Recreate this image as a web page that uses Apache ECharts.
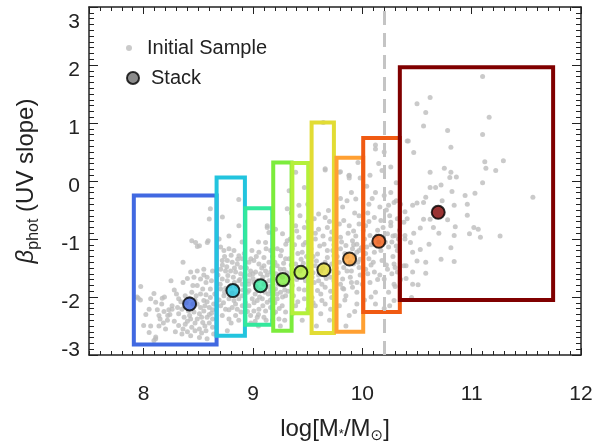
<!DOCTYPE html>
<html>
<head>
<meta charset="utf-8">
<script src="https://cdn.jsdelivr.net/npm/echarts@6/dist/echarts.min.js"></script>
<style>
  body { margin: 0; background: #fff; }
  #chart { width: 606px; height: 443px; }
</style>
</head>
<body>
<div id="chart"></div>
<script>
// stack bins: box edges (log mass) and beta range
var boxX0 = [7.91, 8.667, 8.93, 9.185, 9.36, 9.536, 9.764, 10.008, 10.343];
var boxX1 = [8.667, 8.926, 9.176, 9.353, 9.505, 9.74, 10.008, 10.343, 11.745];
var boxY0 = [-2.82, -2.67, -2.48, -2.58, -2.28, -2.62, -2.60, -2.26, -2.05];
var boxY1 = [-0.25, 0.06, -0.47, 0.32, 0.31, 1.01, 0.40, 0.74, 1.96];
var binColors = ['#4169e1', '#22c4de', '#33e89c', '#7cec3c', '#b4f03a', '#e2dc34', '#ffa032', '#f05a12', '#800000'];

// stacked measurements
var stackX = [8.42, 8.816, 9.069, 9.273, 9.438, 9.648, 9.883, 10.151, 10.694];
var stackY = [-2.12, -1.89, -1.805, -1.70, -1.575, -1.53, -1.345, -1.04, -0.54];

// mass completeness line
var dashX = [10.2];

// initial sample
var sampleLow = [
  [8.475,-1.06],[8.582,-1.06],[8.491,-1.13],[7.973,-1.82],[7.95,-2.02],[7.97,-2.05],[8.064,-2.03],[8.094,-1.94],
  [8.11,-2.09],[8.17,-2.02],[8.165,-2.12],[8.125,-2.22],[8.186,-2.25],[8.23,-2.22],[8.26,-2.21],[8.217,-2.40],
  [8.14,-2.50],[8.064,-2.50],[8.05,-2.61],[8.11,-2.69],[8.094,-2.75],[8.43,-1.57],[8.49,-1.55],[8.55,-1.52],
  [8.63,-1.55],[8.46,-1.66],[8.52,-1.69],[8.58,-1.66],[8.49,-1.80],[8.54,-1.86],[8.57,-1.75],[8.61,-1.86],
  [8.44,-1.92],[8.38,-1.98],[8.32,-2.03],[8.26,-2.15],[8.31,-2.18],[8.35,-2.21],[8.41,-2.24],[8.46,-2.26],
  [8.51,-2.29],[8.55,-2.24],[8.60,-2.18],[8.64,-2.12],[8.32,-2.29],[8.37,-2.35],[8.43,-2.38],[8.49,-2.38],
  [8.54,-2.44],[8.58,-2.35],[8.63,-2.38],[8.32,-2.49],[8.38,-2.47],[8.44,-2.52],[8.51,-2.55],[8.57,-2.58],
  [8.63,-2.52],[8.35,-2.64],[8.43,-2.67],[8.51,-2.70],[8.58,-2.72],[8.64,-2.64],[8.55,-2.06],[8.61,-2.01],
  [8.49,-2.12],[8.19,-2.0],[7.94,-2.0],[8.05,-2.21],[8.14,-2.32],[8.0,-2.49],[8.11,-2.72],[8.22,-2.32],
  [8.44,-1.03],[8.51,-1.115],[8.61,-0.48],[8.60,-0.655],[8.59,-1.03],[8.28,-1.88],[8.36,-1.75],[8.40,-1.68],
  [8.52,-1.95],[8.58,-2.08],[8.47,-2.05],[8.39,-2.10],[8.62,-2.28],[8.56,-2.50],[8.47,-2.58],[8.40,-2.60],
  [8.28,-2.42],[8.20,-2.55],[8.15,-2.38],[8.02,-2.30],[8.36,-1.40],[8.25,-1.72],
  [8.30,-1.95],[8.34,-2.08],[8.42,-2.02],[8.45,-2.12],[8.48,-1.98],[8.52,-2.18],[8.57,-1.96],[8.60,-2.30],
  [8.62,-1.72],[8.65,-1.95],[8.40,-2.42],[8.47,-2.45],[8.53,-2.62],[8.45,-1.80],[8.55,-1.62],[8.24,-2.30],
  [8.29,-2.60],[8.18,-2.45],[8.53,-2.35],[8.60,-2.45],[8.56,-2.15],[8.63,-2.22],[8.42,-2.32],[8.36,-2.55]
];
var sampleMidLow = [
  [8.871,-0.77],[8.704,-1.14],[8.734,-1.20],[8.780,-1.17],[8.826,-1.20],[8.871,-1.29],[8.719,-1.37],[8.765,-1.37],
  [8.810,-1.40],[8.856,-1.43],[8.704,-1.52],[8.749,-1.55],[8.795,-1.55],[8.841,-1.57],[8.887,-1.60],[8.719,-1.69],
  [8.765,-1.72],[8.871,-1.72],[8.902,-1.78],[8.704,-1.86],[8.734,-1.98],[8.780,-2.03],[8.826,-2.06],[8.871,-2.03],
  [8.902,-1.98],[8.704,-2.15],[8.749,-2.21],[8.810,-2.18],[8.856,-2.21],[8.902,-2.15],[8.719,-2.32],[8.780,-2.38],
  [8.841,-2.32],[8.765,-2.58],[8.887,-1.49],[8.902,-1.34],[8.963,-1.40],[9.008,-1.37],[9.054,-1.43],[9.100,-1.46],
  [9.146,-1.40],[8.978,-1.55],[9.024,-1.57],[9.069,-1.60],[9.115,-1.55],[9.161,-1.57],[8.963,-1.72],[9.008,-1.75],
  [9.146,-1.72],[8.963,-1.89],[9.161,-1.89],[8.993,-2.03],[9.039,-2.06],[9.085,-2.03],[9.130,-2.09],[8.963,-2.15],
  [9.008,-2.24],[9.054,-2.21],[9.115,-2.24],[9.161,-2.18],[8.978,-2.32],[9.039,-2.35],[9.100,-2.35],[9.130,-0.80],
  [9.146,-0.89],[9.115,-1.06],[9.054,-1.23],[9.161,-1.20],[9.206,-0.83],[9.222,-1.17],[9.252,-1.29],[9.298,-1.34],
  [9.222,-1.46],[9.283,-1.52],[9.206,-1.86],[9.252,-1.92],[9.298,-1.98],[9.222,-2.03],[9.267,-2.15],[9.206,-2.26],
  [9.298,-2.26],[9.237,-2.38],[9.313,-1.03],[9.313,-0.48],[8.87,-0.32],[9.13,-0.77],[9.27,-0.91],[9.40,-0.86],
  [9.30,-1.09],[9.12,-1.17],[8.98,-1.34],[8.75,-1.85],[8.83,-1.75],[8.92,-1.65],[8.95,-1.92],[9.03,-1.82],
  [9.10,-1.78],[9.18,-1.70],[9.24,-1.62],[9.28,-1.80],[9.00,-1.60],[8.86,-1.95],[8.80,-2.45],[8.93,-2.10],
  [9.06,-2.00],[9.14,-1.95],[9.20,-2.10],[9.27,-2.00],[8.98,-2.45],[9.05,-2.50],[9.18,-2.40],[9.25,-2.50],
  [8.72,-1.45],[8.92,-1.25],[9.05,-1.05],[8.90,-1.05],[8.78,-0.95],[8.72,-0.62],[8.69,-1.00],
  [8.68,-1.62],[8.70,-1.78],[8.74,-1.92],[8.77,-1.63],[8.79,-1.81],[8.82,-1.66],[8.85,-1.82],[8.88,-1.70],
  [8.91,-1.88],[8.69,-2.05],[8.73,-2.10],[8.78,-2.22],[8.84,-2.12],[8.89,-2.26],[8.76,-1.48],[8.83,-1.50],
  [8.86,-1.35],[8.80,-1.28],[8.94,-1.50],[8.96,-1.78],[8.97,-1.62],[9.00,-1.68],[9.02,-1.95],[9.04,-1.72],
  [9.07,-1.88],[9.09,-1.66],[9.11,-1.92],[9.13,-1.62],[9.15,-1.82],[9.17,-1.50],[9.19,-1.88],[9.21,-1.60],
  [9.23,-1.78],[9.25,-1.52],[9.27,-1.66],[9.29,-1.88],[9.01,-2.10],[9.09,-2.15],[9.16,-2.05],[9.24,-2.20],
  [9.03,-1.30],[9.10,-1.32],[9.20,-1.40],[9.26,-1.20],[9.05,-2.30],[9.19,-2.28],[9.29,-2.40],[8.99,-1.20],
  [9.08,-1.50],[9.22,-1.95],[8.74,-1.30],[8.81,-1.93],[8.95,-2.25],[9.12,-2.40],[9.02,-2.42],[8.87,-2.40],
  [9.18,-1.30],[9.28,-1.42]
];
var sampleMidHigh = [
  [9.39,0.15],[9.66,0.21],[9.79,0.15],[9.86,-0.34],[9.94,-0.31],[9.33,-0.17],[9.47,-0.11],[9.42,-0.42],
  [9.50,-0.40],[9.69,-0.51],[9.60,-0.57],[9.66,-0.63],[9.56,-0.65],[9.43,-0.60],[9.39,-0.77],[9.47,-0.80],
  [9.53,-0.88],[9.60,-0.83],[9.68,-0.80],[9.72,-0.88],[9.79,-0.74],[9.83,-0.68],[9.88,-0.77],[9.92,-0.86],
  [9.97,-0.74],[9.34,-1.00],[9.42,-0.97],[9.48,-1.06],[9.57,-1.00],[9.65,-1.09],[9.71,-1.00],[9.80,-0.97],
  [9.85,-1.11],[9.91,-1.03],[9.95,-1.09],[9.36,-1.17],[9.45,-1.23],[9.53,-1.17],[9.59,-1.26],[9.68,-1.20],
  [9.74,-1.29],[9.80,-1.17],[9.91,-1.17],[9.97,-1.20],[9.33,-1.34],[9.39,-1.43],[9.53,-1.37],[9.57,-1.46],
  [9.72,-1.43],[9.79,-1.40],[9.83,-1.49],[9.92,-1.43],[9.97,-1.49],[9.34,-1.66],[9.48,-1.72],[9.54,-1.66],
  [9.60,-1.72],[9.71,-1.66],[9.76,-1.60],[9.82,-1.69],[9.89,-1.66],[9.95,-1.75],[9.36,-1.80],[9.42,-1.86],
  [9.51,-1.83],[9.59,-1.89],[9.66,-1.83],[9.74,-1.89],[9.83,-1.86],[9.91,-1.83],[9.37,-1.98],[9.47,-2.03],
  [9.54,-2.01],[9.63,-2.06],[9.72,-2.01],[9.85,-1.98],[9.95,-1.92],[9.39,-2.15],[9.50,-2.21],[9.57,-2.15],
  [9.71,-2.21],[9.79,-2.15],[9.36,-2.29],[9.62,-2.29],[9.95,-2.12],[9.88,-2.32],[9.643,1.01],[9.66,0.19],
  [9.80,0.16],[9.88,0.10],[9.88,0.05],[9.96,0.32],[9.45,-1.50],[9.50,-1.60],[9.62,-1.55],[9.66,-1.40],
  [9.76,-1.50],[9.86,-1.30],[9.90,-1.55],[9.98,-1.62],[9.55,-1.30],[9.44,-1.35],[9.38,-1.55],[9.62,-1.95],
  [9.80,-1.78],[9.70,-2.40],[9.45,-2.40],[9.58,-2.50],[9.85,-2.50],[9.98,-1.35],[9.74,-1.10],[9.64,-0.95],
  [9.35,-0.55],[9.52,-0.25],[9.82,-0.45],[9.93,-0.55],
  [9.31,-1.58],[9.33,-1.75],[9.35,-1.45],[9.37,-1.62],[9.40,-1.70],[9.41,-1.25],[9.43,-1.55],[9.46,-1.42],
  [9.47,-1.88],[9.49,-1.30],[9.51,-1.48],[9.52,-1.95],[9.55,-1.58],[9.56,-1.75],[9.58,-1.38],[9.60,-1.62],
  [9.61,-1.12],[9.63,-1.78],[9.64,-1.50],[9.67,-1.68],[9.68,-1.32],[9.70,-1.55],[9.71,-1.90],[9.73,-1.20],
  [9.74,-1.72],[9.32,-1.90],[9.41,-2.08],[9.55,-2.10],[9.66,-2.12],[9.46,-1.10],[9.57,-0.90],[9.70,-0.70],
  [9.50,-0.70],[9.38,-1.10]
];
var sampleHigh = [
  [10.41,0.69],[10.12,0.62],[10.12,0.55],[10.20,0.50],[10.18,0.18],[10.26,0.24],[10.04,-0.09],[10.31,-0.03],
  [9.877,0.09],[10.12,-0.20],[10.20,-0.25],[10.06,-0.40],[10.29,-0.37],[10.11,-0.63],[10.03,-0.77],[10.17,-0.68],
  [10.26,-0.77],[10.32,-0.65],[10.07,-0.94],[10.23,-0.91],[10.30,-0.94],[10.04,-1.14],[10.11,-1.23],[10.24,-1.14],
  [10.32,-1.20],[10.06,-1.34],[10.18,-1.37],[10.29,-1.43],[10.03,-1.52],[10.11,-1.57],[10.23,-1.52],[10.32,-1.57],
  [10.07,-1.75],[10.20,-1.69],[10.29,-1.78],[10.12,-1.92],[10.24,-1.92],[10.12,-2.12],[10.29,-2.06],[10.38,-1.46],
  [10.41,-0.65],[9.95,-1.23],[10.02,-1.00],[10.15,-1.05],[10.27,-1.05],[10.08,-1.45],[10.16,-1.62],[10.28,-1.30],
  [10.05,-0.55],[10.22,-0.50],[10.34,-0.85],[10.14,-0.85],[10.02,-2.05],[10.20,-2.20],[10.35,-1.70],
  [9.77,-1.30],[9.78,-1.58],[9.81,-1.05],[9.82,-1.85],[9.84,-1.25],[9.86,-1.55],[9.87,-0.90],[9.89,-1.40],
  [9.90,-1.75],[9.92,-1.10],[9.93,-1.30],[9.94,-0.95],[9.96,-1.40],[9.97,-0.60],[9.99,-1.15],[10.00,-1.78],
  [10.01,-0.85],[10.03,-1.25],[10.05,-1.60],[10.06,-0.70],[10.08,-1.10],[10.09,-0.30],[10.10,-1.40],[10.13,-0.95],
  [10.14,-1.70],[10.16,-0.45],[10.17,-1.20],[10.19,-0.80],[10.21,-1.05],[10.22,-1.45],[10.25,-0.60],[10.27,-1.60],
  [10.28,-0.95],[10.33,-1.00],[10.35,-0.40],[9.80,-0.30],[9.90,-0.20],[9.98,0.05],[10.07,0.10],[10.15,0.30],
  [9.84,-2.05],[9.93,-2.25],[10.08,-2.00],[10.25,-2.15],
  [11.10,1.80],[10.62,1.44],[10.50,1.33],[10.58,1.18],[10.56,0.95],[11.16,1.10],[10.78,0.87],[11.10,0.80],
  [10.42,0.69],[10.81,0.58],[10.47,0.49],[11.12,0.33],[11.29,0.35],[11.13,0.22],[11.22,0.18],[10.75,0.22],
  [10.62,0.15],[10.81,0.15],[10.80,0.06],[10.86,0.07],[11.10,-0.03],[10.72,-0.07],[10.62,-0.11],[10.67,-0.11],
  [10.82,-0.18],[11.03,-0.21],[10.94,-0.25],[11.56,-0.28],[10.58,-0.28],[10.56,-0.37],[10.50,-0.38],[10.46,-0.42],
  [10.73,-0.34],[10.96,-0.40],[10.84,-0.42],[10.39,-0.53],[10.96,-0.59],[10.62,-0.66],[10.78,-0.67],[10.56,-0.66],
  [10.65,-0.80],[10.85,-0.79],[11.02,-0.80],[11.06,-0.83],[10.53,-0.81],[10.47,-0.90],[10.39,-0.94],[10.70,-0.90],
  [10.84,-0.94],[10.98,-0.91],[11.08,-0.97],[11.26,-0.95],[10.44,-1.06],[10.61,-1.09],[10.53,-1.18],[10.46,-1.23],
  [10.81,-1.15],[10.72,-1.35],[10.84,-1.39],[10.58,-1.40],[10.50,-1.38],[10.40,-1.46],[10.46,-1.57],[10.58,-1.59],
  [10.40,-1.68],[10.46,-1.78],[10.51,-1.79],[10.45,-2.01],[10.31,-1.12],[10.30,-1.49],[10.30,-1.82],[10.26,-0.20],
  [10.24,-0.42],[10.31,-0.34],[10.38,-0.71],[10.39,-1.00],[10.26,-0.71]
];

var FONT = 'Liberation Sans, Arial, DejaVu Sans, sans-serif';
var INK = '#222';

var chart = echarts.init(document.getElementById('chart'));

var series = [];

series.push({
  name: 'Initial Sample',
  type: 'scatter',
  symbol: 'circle',
  symbolSize: 5,
  itemStyle: { color: '#bdbdbd' },
  silent: true,
  z: 1,
  data: sampleLow.concat(sampleMidLow, sampleMidHigh, sampleHigh),
  markLine: {
    silent: true,
    symbol: 'none',
    label: { show: false },
    lineStyle: { color: '#c4c4c4', width: 3, type: [14, 8] },
    data: dashX.map(function (v) { return { xAxis: v }; })
  }
});

for (var i = 0; i < boxX0.length; i++) {
  series.push({
    name: 'bin' + i,
    type: 'line',
    symbol: 'none',
    silent: true,
    z: 2,
    lineStyle: { color: binColors[i], width: 4, join: 'miter', cap: 'square' },
    data: [
      [boxX0[i], boxY0[i]], [boxX1[i], boxY0[i]], [boxX1[i], boxY1[i]],
      [boxX0[i], boxY1[i]], [boxX0[i], boxY0[i]]
    ]
  });
}

series.push({
  name: 'Stack',
  type: 'scatter',
  symbol: 'circle',
  symbolSize: 13,
  z: 5,
  itemStyle: { color: '#6e6e6e', borderColor: '#000', borderWidth: 2 },
  data: stackX.map(function (x, k) {
    return { value: [x, stackY[k]], itemStyle: { color: binColors[k] } };
  })
});

var xMajor = {
  type: 'value', min: 7.5, max: 12,
  axisLine: { show: true, onZero: false, lineStyle: { color: INK, width: 1.5 } },
  axisTick: { show: true, inside: true, length: 7, lineStyle: { color: INK } },
  splitLine: { show: false }
};
var xMinor = {
  type: 'value', min: 7.5, max: 12, interval: 0.1,
  axisLine: { show: false, onZero: false },
  axisTick: { show: true, inside: true, length: 4, lineStyle: { color: INK } },
  axisLabel: { show: false },
  splitLine: { show: false }
};

chart.setOption({
  animation: false,
  grid: { left: 89, right: 25, top: 7, bottom: 88, containLabel: false, outerBoundsMode: 'none' },
  legend: [
    {
      data: [{ name: 'Initial Sample', icon: 'circle' }],
      left: 121, top: 33, itemWidth: 26, itemHeight: 6,
      selectedMode: false,
      textStyle: { fontFamily: FONT, fontSize: 20, color: INK }
    },
    {
      data: [{ name: 'Stack', icon: 'circle' }],
      left: 121, top: 63, itemWidth: 26, itemHeight: 12,
      selectedMode: false,
      textStyle: { fontFamily: FONT, fontSize: 20, color: INK }
    }
  ],
  xAxis: [
    Object.assign({}, xMajor, {
      position: 'bottom',
      axisLabel: { show: true, showMinLabel: false, margin: 29, fontFamily: FONT, fontSize: 21, color: INK },
      name: '{t|log[M}{s|*}{t|/M}{o|⊙}{t|]}',
      nameLocation: 'middle',
      nameGap: 59,
      nameTextStyle: {
        rich: {
          t: { fontFamily: FONT, fontSize: 24, color: INK, lineHeight: 30, verticalAlign: 'middle' },
          s: { fontFamily: FONT, fontSize: 13, color: INK, lineHeight: 30, verticalAlign: 'bottom', padding: [0, 0, 3, 0] },
          o: { fontFamily: 'DejaVu Sans, ' + FONT, fontSize: 15, color: INK, lineHeight: 30, verticalAlign: 'bottom' }
        }
      }
    }),
    Object.assign({}, xMajor, { position: 'top', axisLabel: { show: false } }),
    Object.assign({}, xMinor, { position: 'bottom' }),
    Object.assign({}, xMinor, { position: 'top' })
  ],
  yAxis: [
    {
      type: 'value', min: -3, max: 3, interval: 1, position: 'left',
      axisLine: { show: true, onZero: false, lineStyle: { color: INK, width: 1.5 } },
      axisTick: { show: true, inside: true, length: 9, lineStyle: { color: INK } },
      minorTick: { show: true, splitNumber: 10, length: 5, lineStyle: { color: INK } },
      splitLine: { show: false },
      axisLabel: {
        margin: 9,
        formatter: function (v) {
          if (v === 3) return '{t|' + v + '}';
          if (v === -3) return '{b|' + v + '}';
          return '{m|' + v + '}';
        },
        rich: {
          t: { fontFamily: FONT, fontSize: 21, color: INK, padding: [30, 0, 0, 0] },
          m: { fontFamily: FONT, fontSize: 21, color: INK, padding: [11, 0, 0, 0] },
          b: { fontFamily: FONT, fontSize: 21, color: INK, padding: [0, 0, 10, 0] }
        }
      },
      name: '{b|β}{s|phot}{t| (UV slope)}',
      nameLocation: 'middle',
      nameGap: 47,
      nameRotate: 90,
      nameTextStyle: {
        rich: {
          b: { fontFamily: FONT, fontStyle: 'italic', fontSize: 24, color: INK, lineHeight: 32, verticalAlign: 'middle' },
          s: { fontFamily: FONT, fontSize: 16, color: INK, lineHeight: 32, verticalAlign: 'bottom' },
          t: { fontFamily: FONT, fontSize: 24, color: INK, lineHeight: 32, verticalAlign: 'middle' }
        }
      }
    },
    {
      type: 'value', min: -3, max: 3, interval: 1, position: 'right',
      axisLine: { show: true, onZero: false, lineStyle: { color: INK, width: 1.5 } },
      axisTick: { show: true, inside: true, length: 9, lineStyle: { color: INK } },
      minorTick: { show: true, splitNumber: 10, length: 5, lineStyle: { color: INK } },
      splitLine: { show: false },
      axisLabel: { show: false }
    }
  ],
  series: series
});
</script>
</body>
</html>
